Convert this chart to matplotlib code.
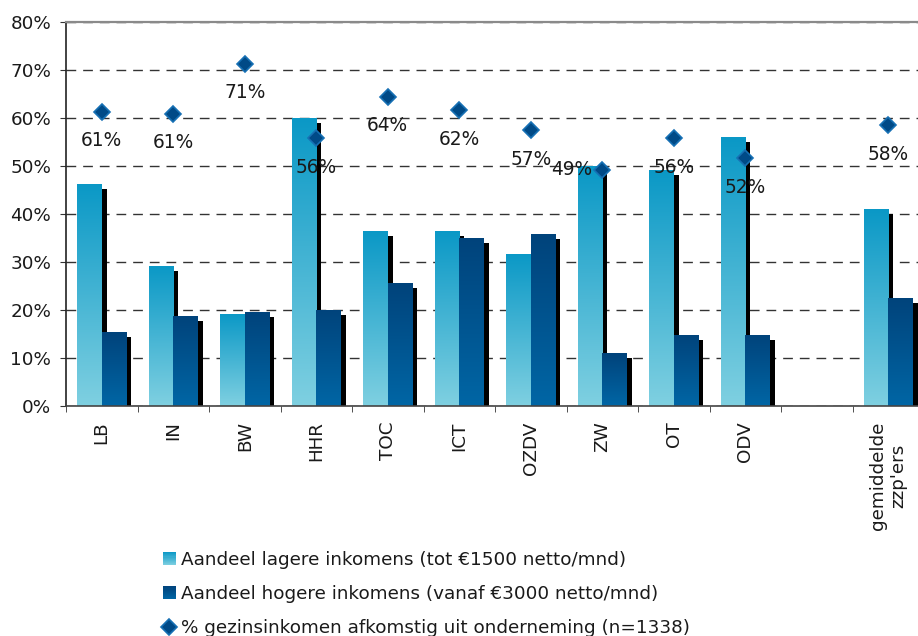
import numpy as np
import matplotlib
matplotlib.use("Agg")
import matplotlib.pyplot as plt
from matplotlib.colors import LinearSegmentedColormap, to_rgb
from matplotlib.patches import Rectangle
from matplotlib.lines import Line2D
from matplotlib.legend_handler import HandlerBase
from matplotlib.transforms import ScaledTranslation

# ---- data ----
categories = ['LB', 'IN', 'BW', 'HHR', 'TOC', 'ICT', 'OZDV', 'ZW', 'OT', 'ODV', '', "gemiddelde\nzzp'ers"]
lower_income = [46.3, 29.2, 19.2, 60.0, 36.5, 36.5, 31.7, 49.9, 49.2, 56.0, np.nan, 41.0]
higher_income = [15.4, 18.8, 19.6, 20.0, 25.6, 35.0, 35.8, 11.0, 14.8, 14.8, np.nan, 22.5]
household_share = [61.3, 60.9, 71.3, 55.8, 64.4, 61.6, 57.4, 49.2, 55.8, 51.6, np.nan, 58.5]
yticks = [0, 10, 20, 30, 40, 50, 60, 70, 80]
legend_labels = ['Aandeel lagere inkomens (tot €1500 netto/mnd)',
                 'Aandeel hogere inkomens (vanaf €3000 netto/mnd)',
                 '% gezinsinkomen afkomstig uit onderneming (n=1338)']

# ---- style ----
LIGHT_TOP, LIGHT_BOT = '#0a98c6', '#7fd0e1'
DARK_TOP, DARK_BOT = '#00437b', '#0066a5'
FS = 13.2

fig = plt.figure(figsize=(9.18, 6.36), dpi=100)
ax = fig.add_axes([66/918, 1-406/636, (924-66)/918, (406-22)/636])

x = np.arange(len(categories))
w = 0.343
off = 0.172

shadow_tr = ax.transData + ScaledTranslation(5/100, -5/100, fig.dpi_scale_trans)
ax.bar(x - off, lower_income, w, color='black', transform=shadow_tr, zorder=1, linewidth=0)
ax.bar(x + off, higher_income, w, color='black', transform=shadow_tr, zorder=1, linewidth=0)

b1 = ax.bar(x - off, lower_income, w, color='none', zorder=2, linewidth=0)
b2 = ax.bar(x + off, higher_income, w, color='none', zorder=2, linewidth=0)

grad = np.linspace(0, 1, 256).reshape(-1, 1)
def fill_gradient(bars, top, bot, z):
    cmap = LinearSegmentedColormap.from_list('g', [bot, top])
    for p in bars.patches:
        h = p.get_height()
        if not np.isfinite(h):
            continue
        x0 = p.get_x(); pw = p.get_width()
        im = ax.imshow(grad, extent=(x0, x0 + pw, 0, h), origin='lower', cmap=cmap,
                       aspect='auto', zorder=z, interpolation='bilinear')
        im.set_clip_path(p)

fill_gradient(b1, LIGHT_TOP, LIGHT_BOT, 2.1)
fill_gradient(b2, DARK_TOP, DARK_BOT, 2.2)

ax.plot(x, household_share, linestyle='none', marker='D', markersize=8.5,
        markerfacecolor='#004a87', markeredgecolor='#1670b4', markeredgewidth=1.2, zorder=4)

label_offsets = {7: (-31, 0)}
for i, v in enumerate(household_share):
    if not np.isfinite(v):
        continue
    dx, dy = label_offsets.get(i, (0, -29))
    ax.annotate(f"{v:.0f}%", (x[i], v), xytext=(dx, dy), textcoords='offset pixels',
                ha='center', va='center', fontsize=13.4, color='#1a1a1a', zorder=5)

ax.set_xlim(-0.5, len(categories) - 0.5)
ax.set_ylim(0, 80)
ax.set_yticks(yticks)
ax.set_yticklabels([f"{t}%" for t in yticks], fontsize=FS, color='#1a1a1a')
ax.tick_params(axis='y', length=4.3, pad=6.5, color='#333333')
ax.set_xticks(x)
ax.set_xticklabels(categories, rotation=90, fontsize=FS, color='#1a1a1a',
                   va='top', ha='center', multialignment='center')
ax.tick_params(axis='x', which='major', length=0, pad=11)
ax.set_xticks(np.arange(-0.5, len(categories)), minor=True)
ax.tick_params(axis='x', which='minor', length=4.3, color='#333333')

ax.set_axisbelow(True)
ax.yaxis.grid(True, linestyle=(0, (7, 5)), color='#333333', linewidth=1)
ax.spines['right'].set_visible(False)
ax.spines['top'].set_color('#8a8a8a')
ax.spines['top'].set_linewidth(1.6)
ax.spines['left'].set_color('#222222')
ax.spines['left'].set_linewidth(1.2)
ax.spines['bottom'].set_color('#444444')
ax.spines['bottom'].set_linewidth(1.2)


class GradHandler(HandlerBase):
    def __init__(self, top, bot):
        super().__init__()
        self.top = np.array(to_rgb(top)); self.bot = np.array(to_rgb(bot))
    def create_artists(self, legend, orig_handle, xdescent, ydescent, width, height, fontsize, trans):
        n = 12
        arts = []
        for k in range(n):
            t = (k + 0.5) / n
            c = self.bot * (1 - t) + self.top * t
            r = Rectangle((-xdescent, -ydescent + height * k / n), width, height / n + 0.01,
                          facecolor=c, edgecolor='none', transform=trans)
            arts.append(r)
        return arts

h1 = Rectangle((0, 0), 1, 1)
h2 = Rectangle((0, 0), 1, 1)
h3 = Line2D([], [], linestyle='none', marker='D', markersize=8.5,
            markerfacecolor='#004a87', markeredgecolor='#1670b4', markeredgewidth=1.2)
fig.legend([h1, h2, h3], legend_labels,
           handler_map={h1: GradHandler(LIGHT_TOP, LIGHT_BOT), h2: GradHandler(DARK_TOP, DARK_BOT)},
           loc='upper left', bbox_to_anchor=(163/918, 1-551/636), frameon=False,
           fontsize=FS, handlelength=0.7, handleheight=0.7, handletextpad=0.3,
           labelspacing=0.88, borderpad=0, borderaxespad=0, labelcolor='#1a1a1a')

fig.savefig('out.png', dpi=100)
